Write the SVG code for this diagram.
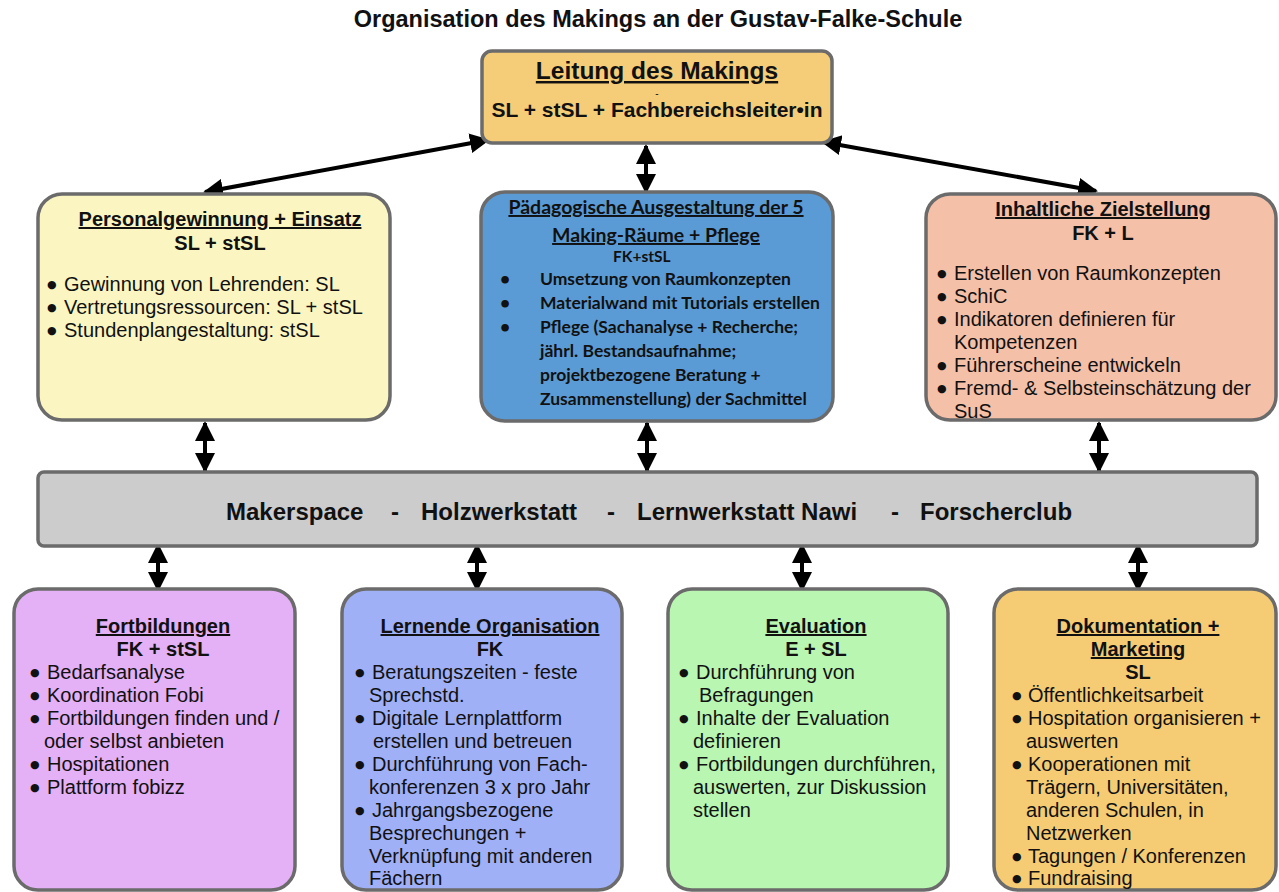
<svg xmlns="http://www.w3.org/2000/svg" width="1279" height="892" viewBox="0 0 1279 892">
  <style>
    .box { stroke: #6b6b6b; stroke-width: 3.5; }
    .ar { font-family: "Liberation Sans", Arial, sans-serif; fill: #111; }
    .h { font-weight: bold; font-size: 20px; text-anchor: middle; }
    .u { text-decoration: underline; }
    .t { font-size: 20px; }
    .b { font-family: "DejaVu Sans", sans-serif; font-size: 11px; }
    .cal { font-family: Lato, "Open Sans", sans-serif; fill: #111; font-weight: bold; }
    .conn { stroke: #000; stroke-width: 4; fill: none; marker-start: url(#ah); marker-end: url(#ah); }
  </style>
  <defs>
    <marker id="ah" viewBox="0 0 10 10" refX="9" refY="5" markerUnits="userSpaceOnUse" markerWidth="20" markerHeight="22" orient="auto-start-reverse">
      <path d="M0,0 L10,5 L0,10 z" fill="#000"/>
    </marker>
  </defs>
  <rect width="1279" height="892" fill="#fff"/>

  <text x="658" y="27" class="ar" font-weight="bold" font-size="23.5" text-anchor="middle">Organisation des Makings an der Gustav-Falke-Schule</text>

  <g id="connectors">
    <line class="conn" x1="488" y1="140" x2="205" y2="192"/>
    <line class="conn" x1="823" y1="142" x2="1096" y2="191"/>
    <line class="conn" x1="646" y1="146" x2="646" y2="192"/>
    <line class="conn" x1="205" y1="423" x2="205" y2="471"/>
    <line class="conn" x1="647" y1="423" x2="647" y2="471"/>
    <line class="conn" x1="1099" y1="423" x2="1099" y2="471"/>
    <line class="conn" x1="158" y1="545" x2="158" y2="590"/>
    <line class="conn" x1="477" y1="545" x2="477" y2="590"/>
    <line class="conn" x1="802" y1="545" x2="802" y2="590"/>
    <line class="conn" x1="1138" y1="545" x2="1138" y2="590"/>
  </g>

  <g id="leitung">
    <rect class="box" x="482" y="51" width="350" height="92" rx="10" fill="#f5cd78"/>
    <text x="657" y="79" class="ar u" font-weight="bold" font-size="24.5" text-anchor="middle">Leitung des Makings</text>
    <text x="657" y="97" class="ar" font-size="10" text-anchor="middle">-</text>
    <text x="657" y="117" class="ar" font-weight="bold" font-size="21" text-anchor="middle">SL + stSL + Fachbereichsleiter•in</text>
  </g>

  <g id="personal">
    <rect class="box" x="38" y="194" width="352" height="226" rx="24" fill="#fbf6c1"/>
    <text x="220" y="226" class="ar h u">Personalgewinnung + Einsatz</text>
    <text x="220" y="250" class="ar h">SL + stSL</text>
    <g class="ar t">
      <text x="47" y="291"><tspan class="b" dy="-3">●</tspan><tspan x="64" dy="3">Gewinnung von Lehrenden: SL</tspan></text>
      <text x="47" y="314"><tspan class="b" dy="-3">●</tspan><tspan x="64" dy="3">Vertretungsressourcen: SL + stSL</tspan></text>
      <text x="47" y="337"><tspan class="b" dy="-3">●</tspan><tspan x="64" dy="3">Stundenplangestaltung: stSL</tspan></text>
    </g>
  </g>

  <g id="paedagogik">
    <rect class="box" x="481" y="192" width="352" height="229" rx="24" fill="#5b9bd5"/>
    <text x="656" y="214" class="cal u" font-size="19.5" text-anchor="middle">Pädagogische Ausgestaltung der 5</text>
    <text x="656" y="242" class="cal u" font-size="19.5" text-anchor="middle">Making-Räume + Pflege</text>
    <text x="613" y="262" class="cal" font-size="15.5">FK+stSL</text>
    <g class="cal" font-size="17.5">
      <text x="500" y="285">•<tspan x="540">Umsetzung von Raumkonzepten</tspan></text>
      <text x="500" y="309">•<tspan x="540">Materialwand mit Tutorials erstellen</tspan></text>
      <text x="500" y="333">•<tspan x="540">Pflege (Sachanalyse + Recherche;</tspan></text>
      <text x="540" y="357">jährl. Bestandsaufnahme;</text>
      <text x="540" y="381">projektbezogene Beratung +</text>
      <text x="540" y="405">Zusammenstellung) der Sachmittel</text>
    </g>
  </g>

  <g id="ziel">
    <rect class="box" x="926" y="194" width="350" height="226" rx="24" fill="#f5c0a8"/>
    <text x="1103" y="216" class="ar h u">Inhaltliche Zielstellung</text>
    <text x="1103" y="240" class="ar h">FK + L</text>
    <g class="ar t">
      <text x="937" y="280"><tspan class="b" dy="-3">●</tspan><tspan x="954" dy="3">Erstellen von Raumkonzepten</tspan></text>
      <text x="937" y="303"><tspan class="b" dy="-3">●</tspan><tspan x="954" dy="3">SchiC</tspan></text>
      <text x="937" y="326"><tspan class="b" dy="-3">●</tspan><tspan x="954" dy="3">Indikatoren definieren für</tspan></text>
      <text x="954" y="349">Kompetenzen</text>
      <text x="937" y="372"><tspan class="b" dy="-3">●</tspan><tspan x="954" dy="3">Führerscheine entwickeln</tspan></text>
      <text x="937" y="395"><tspan class="b" dy="-3">●</tspan><tspan x="954" dy="3">Fremd- &amp; Selbsteinschätzung der</tspan></text>
      <text x="954" y="418">SuS</text>
    </g>
  </g>

  <g id="raeume">
    <rect class="box" x="38" y="472" width="1219" height="74" rx="6" fill="#cccccc"/>
    <g class="ar" font-weight="bold" font-size="24">
      <text x="226" y="520">Makerspace</text>
      <text x="391" y="520">-</text>
      <text x="421" y="520">Holzwerkstatt</text>
      <text x="607" y="520">-</text>
      <text x="637" y="520">Lernwerkstatt Nawi</text>
      <text x="891" y="520">-</text>
      <text x="920" y="520">Forscherclub</text>
    </g>
  </g>

  <g id="fortbildungen">
    <rect class="box" x="14" y="589" width="281" height="301" rx="24" fill="#e4b0f6"/>
    <text x="163" y="633" class="ar h u">Fortbildungen</text>
    <text x="163" y="656" class="ar h">FK + stSL</text>
    <g class="ar t">
      <text x="30" y="679"><tspan class="b" dy="-3">●</tspan><tspan x="47" dy="3">Bedarfsanalyse</tspan></text>
      <text x="30" y="702"><tspan class="b" dy="-3">●</tspan><tspan x="47" dy="3">Koordination Fobi</tspan></text>
      <text x="30" y="725"><tspan class="b" dy="-3">●</tspan><tspan x="47" dy="3">Fortbildungen finden und /</tspan></text>
      <text x="44" y="748">oder selbst anbieten</text>
      <text x="30" y="771"><tspan class="b" dy="-3">●</tspan><tspan x="47" dy="3">Hospitationen</tspan></text>
      <text x="30" y="794"><tspan class="b" dy="-3">●</tspan><tspan x="47" dy="3">Plattform fobizz</tspan></text>
    </g>
  </g>

  <g id="lernende-organisation">
    <rect class="box" x="342" y="589" width="280" height="301" rx="24" fill="#a0b0f7"/>
    <text x="490" y="633" class="ar h u">Lernende Organisation</text>
    <text x="490" y="656" class="ar h">FK</text>
    <g class="ar t">
      <text x="355" y="679"><tspan class="b" dy="-3">●</tspan><tspan x="372" dy="3">Beratungszeiten - feste</tspan></text>
      <text x="369" y="702">Sprechstd.</text>
      <text x="355" y="725"><tspan class="b" dy="-3">●</tspan><tspan x="372" dy="3">Digitale Lernplattform</tspan></text>
      <text x="373" y="748">erstellen und betreuen</text>
      <text x="355" y="771"><tspan class="b" dy="-3">●</tspan><tspan x="372" dy="3">Durchführung von Fach-</tspan></text>
      <text x="369" y="794">konferenzen 3 x pro Jahr</text>
      <text x="355" y="817"><tspan class="b" dy="-3">●</tspan><tspan x="372" dy="3">Jahrgangsbezogene</tspan></text>
      <text x="369" y="840">Besprechungen +</text>
      <text x="369" y="863">Verknüpfung mit anderen</text>
      <text x="369" y="885">Fächern</text>
    </g>
  </g>

  <g id="evaluation">
    <rect class="box" x="668" y="589" width="280" height="301" rx="24" fill="#b9f6b1"/>
    <text x="816" y="633" class="ar h u">Evaluation</text>
    <text x="816" y="656" class="ar h">E + SL</text>
    <g class="ar t">
      <text x="679" y="679"><tspan class="b" dy="-3">●</tspan><tspan x="696" dy="3">Durchführung von</tspan></text>
      <text x="699" y="702">Befragungen</text>
      <text x="679" y="725"><tspan class="b" dy="-3">●</tspan><tspan x="696" dy="3">Inhalte der Evaluation</tspan></text>
      <text x="693" y="748">definieren</text>
      <text x="679" y="771"><tspan class="b" dy="-3">●</tspan><tspan x="696" dy="3">Fortbildungen durchführen,</tspan></text>
      <text x="693" y="794">auswerten, zur Diskussion</text>
      <text x="693" y="817">stellen</text>
    </g>
  </g>

  <g id="dokumentation">
    <rect class="box" x="994" y="589" width="282" height="301" rx="24" fill="#f5cc73"/>
    <text x="1138" y="633" class="ar h u">Dokumentation +</text>
    <text x="1138" y="656" class="ar h u">Marketing</text>
    <text x="1138" y="679" class="ar h">SL</text>
    <g class="ar t">
      <text x="1012" y="702"><tspan class="b" dy="-3">●</tspan><tspan x="1028" dy="3">Öffentlichkeitsarbeit</tspan></text>
      <text x="1012" y="725"><tspan class="b" dy="-3">●</tspan><tspan x="1028" dy="3">Hospitation organisieren +</tspan></text>
      <text x="1026" y="748">auswerten</text>
      <text x="1012" y="771"><tspan class="b" dy="-3">●</tspan><tspan x="1028" dy="3">Kooperationen mit</tspan></text>
      <text x="1026" y="794">Trägern, Universitäten,</text>
      <text x="1026" y="817">anderen Schulen, in</text>
      <text x="1026" y="840">Netzwerken</text>
      <text x="1012" y="863"><tspan class="b" dy="-3">●</tspan><tspan x="1028" dy="3">Tagungen / Konferenzen</tspan></text>
      <text x="1012" y="885"><tspan class="b" dy="-3">●</tspan><tspan x="1028" dy="3">Fundraising</tspan></text>
    </g>
  </g>
</svg>
